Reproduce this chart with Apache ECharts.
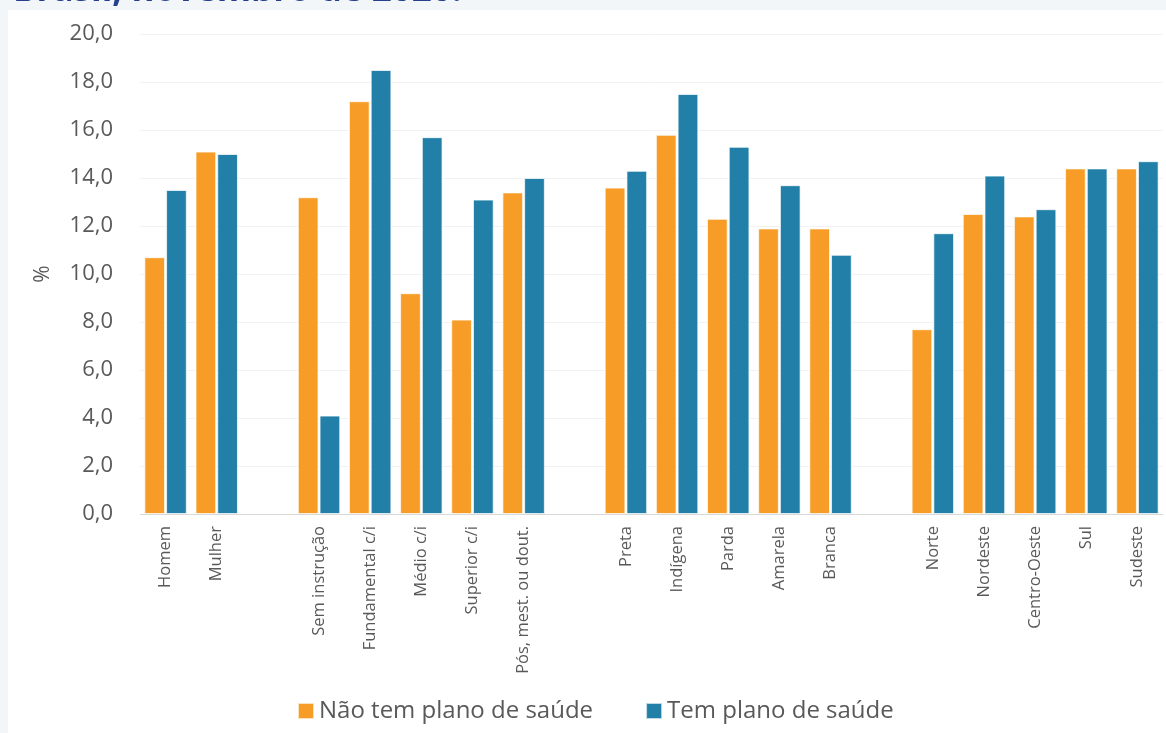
<!DOCTYPE html>
<html>
<head>
<meta charset="utf-8">
<script src="https://cdn.jsdelivr.net/npm/echarts@6/dist/echarts.min.js"></script>
<style>
  html, body { margin: 0; padding: 0; background: #f3f6f8; }
  #chart { width: 1166px; height: 733px; }
</style>
</head>
<body>
<div id="chart"></div>
<script>
// empty strings are spacer slots between the groups
var categories = ['Homem', 'Mulher', '',
  'Sem instrução', 'Fundamental c/i', 'Médio c/i', 'Superior c/i', 'Pós, mest. ou dout.', '',
  'Preta', 'Indígena', 'Parda', 'Amarela', 'Branca', '',
  'Norte', 'Nordeste', 'Centro-Oeste', 'Sul', 'Sudeste'];
var semPlano = [10.7, 15.1, '-',
  13.2, 17.2, 9.2, 8.1, 13.4, '-',
  13.6, 15.8, 12.3, 11.9, 11.9, '-',
  7.7, 12.5, 12.4, 14.4, 14.4];
var comPlano = [13.5, 15.0, '-',
  4.1, 18.5, 15.7, 13.1, 14.0, '-',
  14.3, 17.5, 15.3, 13.7, 10.8, '-',
  11.7, 14.1, 12.7, 14.4, 14.7];
var seriesNames = ['Não tem plano de saúde', 'Tem plano de saúde'];

var chart = echarts.init(document.getElementById('chart'), null, {renderer: 'canvas'});
var font = '"Open Sans", "Noto Sans", sans-serif';

var option = {
  backgroundColor: '#f3f6f8',
  animation: false,
  color: ['#f79d27', '#2280a8'],
  title: {
    text: 'Brasil, novembro de 2020.',
    left: 8,
    top: -31,
    textStyle: {color: '#233f8e', fontSize: 35, fontWeight: 'bold', fontFamily: font}
  },
  graphic: [{
    type: 'rect',
    z: -10,
    shape: {x: 8, y: 10, width: 1170, height: 730},
    style: {fill: '#ffffff'}
  }],
  legend: {
    data: seriesNames,
    left: 292,
    top: 694,
    itemWidth: 16,
    itemHeight: 16,
    itemGap: 52,
    icon: 'rect',
    textStyle: {color: '#595959', fontSize: 24, fontFamily: font}
  },
  grid: {left: 140, right: 3, top: 34, bottom: 219},
  xAxis: {
    type: 'category',
    data: categories,
    axisLine: {lineStyle: {color: '#d9d9d9'}},
    axisTick: {show: false},
    axisLabel: {
      rotate: 90,
      interval: 0,
      margin: 12,
      color: '#595959',
      fontSize: 16.5,
      fontFamily: font
    }
  },
  yAxis: {
    type: 'value',
    min: 0,
    max: 20,
    interval: 2,
    name: '%',
    nameLocation: 'middle',
    nameGap: 86,
    nameTextStyle: {color: '#595959', fontSize: 21, fontFamily: font},
    axisLine: {show: false},
    axisTick: {show: false},
    splitLine: {lineStyle: {color: '#f2f2f2'}},
    axisLabel: {
      margin: 27,
      color: '#595959',
      fontSize: 22,
      fontFamily: font,
      formatter: function (v) { return v.toFixed(1).replace('.', ','); }
    }
  },
  series: [
    {
      name: seriesNames[0],
      type: 'bar',
      data: semPlano,
      barGap: '5%',
      barCategoryGap: '17%',
      itemStyle: {borderColor: 'rgba(255,255,255,0.7)', borderWidth: 1}
    },
    {
      name: seriesNames[1],
      type: 'bar',
      data: comPlano,
      barGap: '5%',
      barCategoryGap: '17%',
      itemStyle: {borderColor: 'rgba(255,255,255,0.7)', borderWidth: 1}
    }
  ]
};
chart.setOption(option);
</script>
</body>
</html>
